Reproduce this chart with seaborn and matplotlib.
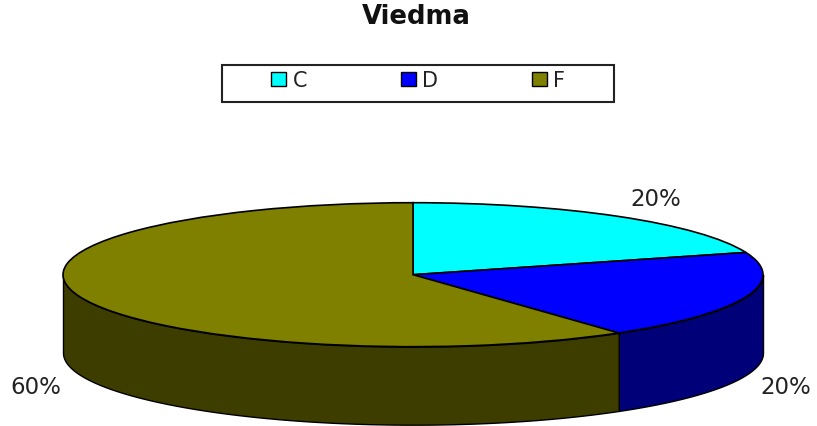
import numpy as np
import matplotlib
matplotlib.use("Agg")
import matplotlib.pyplot as plt
from matplotlib.patches import Patch, Rectangle
import seaborn as sns

title = "Viedma"
categories = ["C", "D", "F"]
values = [20, 20, 60]
top_colors = ["#00FFFF", "#0000FF", "#808000"]
side_colors = ["#00A0A0", "#000078", "#3D3D00"]

W, H = 817, 427
CX, CY, RX, RY, DEPTH = 413, 275.7, 350, 72, 78

sns.set_theme(style="white")
plt.rcParams["font.family"] = ["DejaVu Sans"]
palette = sns.color_palette(top_colors)

fig = plt.figure(figsize=(W / 100, H / 100), dpi=100, facecolor="white")
ax = fig.add_axes([0, 0, 1, 1])

total = sum(values)
bounds = 90 - 360 * np.cumsum([0] + values) / total
depth = DEPTH / RY

# Extruded rim: only the front half of the ellipse is visible
for hi, lo, col in zip(bounds[:-1], bounds[1:], side_colors):
    a, b = min(hi, 0), max(lo, -180)
    if a <= b:
        continue
    th = np.radians(np.linspace(a, b, 200))
    x, y = np.cos(th), np.sin(th)
    ax.fill_between(x, y, y - depth, facecolor=col, edgecolor="black", linewidth=1, zorder=2)

wedges, _ = ax.pie(values, colors=palette, startangle=90, counterclock=False, radius=1,
                   wedgeprops=dict(edgecolor="black", linewidth=1.2, zorder=3))

ax.set_aspect("auto")
ax.set_xlim(-CX / RX, (W - CX) / RX)
ax.set_ylim(-(H - CY) / RY, CY / RY)
ax.axis("off")

# Percent labels
label_px = [(656, 199), (786, 388), (36, 388)]
for v, (px, py) in zip(values, label_px):
    fig.text(px / W, 1 - py / H, f"{round(100 * v / total)}%", ha="center", va="center",
             fontsize=16.5, color="#222222")

fig.text(416 / W, 1 - 17 / H, title, ha="center", va="center", fontsize=18.7,
         fontweight="bold", color="#111111")

# Legend frame and entries
fig.add_artist(Rectangle((222 / W, 1 - 103 / H), 392 / W, 37 / H, transform=fig.transFigure,
                         facecolor="white", edgecolor="#222222", linewidth=1.5, zorder=4))
handles = [Patch(facecolor=c, edgecolor="black", linewidth=1) for c in palette]
leg = fig.legend(handles, categories, ncol=3, loc="center",
                 bbox_to_anchor=(418 / W, 1 - 81 / H), frameon=False, fontsize=15,
                 handlelength=0.72, handleheight=0.65, handletextpad=0.29,
                 columnspacing=4.5, labelcolor="#222222")
leg.set_zorder(5)

fig.savefig("out.png", dpi=100, facecolor="white")
